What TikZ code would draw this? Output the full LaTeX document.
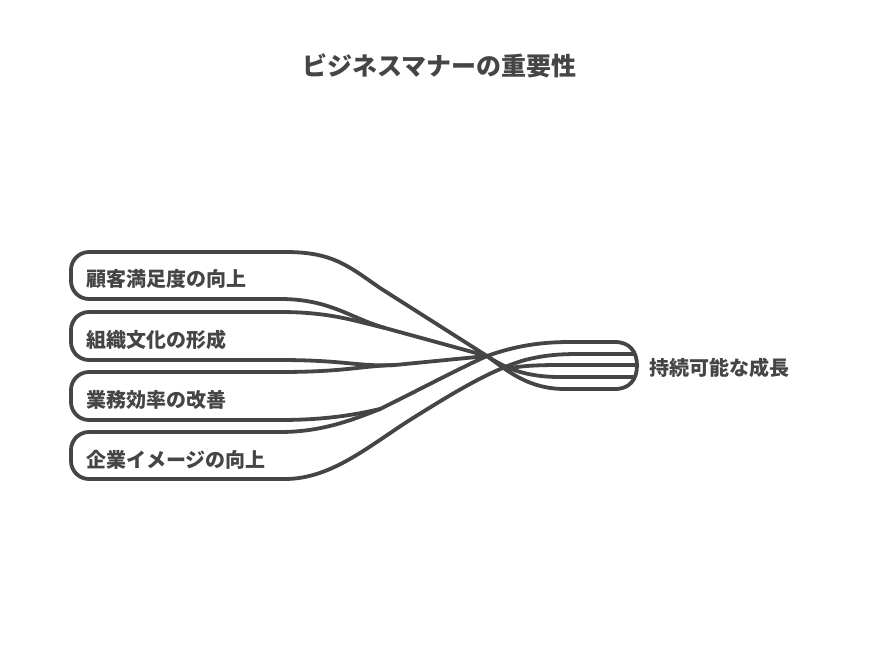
\documentclass[tikz,border=0pt]{standalone}
\usepackage{fontspec}
\newfontfamily\jp{Noto Sans CJK JP}
\definecolor{ink}{HTML}{454545}
\begin{document}
\begin{tikzpicture}[x=1pt,y=-1pt,
  rope/.style={draw=ink,line width=3.8pt,line cap=round,line join=round},
  pill/.style={rope,rounded corners=18pt},
  lbl/.style={anchor=west,inner sep=0pt,text=ink,font=\jp\bfseries\fontsize{20}{24}\selectfont},
  ttl/.style={inner sep=0pt,text=ink,font=\jp\bfseries\fontsize{25}{30}\selectfont}]
\useasboundingbox (0,0) rectangle (877,660);

\node[ttl] (title) at (439.5,66) {ビジネスマナーの重要性};

% strand pills
\draw[pill] (285,252) -- (71,252) -- (71,299) -- (280,299);
\draw[pill] (280,312) -- (71,312) -- (71,360) -- (280,360);
\draw[pill] (280,372) -- (71,372) -- (71,420) -- (280,420);
\draw[pill] (280,432) -- (71,432) -- (71,479) -- (285,479);

\node[lbl] (s1) at (86,279) {顧客満足度の向上};
\node[lbl] (s2) at (86,340) {組織文化の形成};
\node[lbl] (s3) at (86,399.5) {業務効率の改善};
\node[lbl] (s4) at (86,459.5) {企業イメージの向上};

\coordinate (X) at (487,356);
\coordinate (M1) at (385,328);
\coordinate (M2) at (395,365);
\coordinate (M3) at (380,409);

% converging strands
\draw[rope] (285,252) .. controls (332,252) and (347,265) .. (380,288) -- (X);
\draw[rope] (280,299) .. controls (330,299) and (350,318) .. (M1) -- (X);
\draw[rope] (280,312) .. controls (330,312) and (355,321) .. (M1);
\draw[rope] (280,360) .. controls (345,360) and (360,367) .. (M2) -- (X);
\draw[rope] (280,372) .. controls (345,372) and (360,366) .. (M2);
\draw[rope] (280,420) .. controls (320,420) and (350,416) .. (M3);
\draw[rope] (280,432) .. controls (320,432) and (350,421) .. (M3);

% outer band of the bundle with its cap
\draw[rope] (M3) .. controls (405,397) and (460,368) .. (X)
  .. controls (515,346) and (540,342) .. (570,342) -- (615,342)
  .. controls (630,342) and (637,352) .. (637,365.5)
  .. controls (637,379) and (630,389) .. (615,389) -- (565,389)
  .. controls (530,389) and (510,373) .. (X);

% crossing strand
\draw[rope] (285,479) .. controls (332,479) and (370,445) .. (413,418)
  .. controls (450,395) and (490,370) .. (525,360)
  .. controls (545,355) and (560,354) .. (580,354) -- (634,354);

% inner lines of the bundle
\draw[rope] (X) .. controls (505,368) and (525,377) .. (560,377) -- (634,377);
\draw[rope] (505,369) .. controls (520,366) and (535,365) .. (560,365) -- (636,365);

\node[lbl] (goal) at (649,367.5) {持続可能な成長};
\end{tikzpicture}
\end{document}
